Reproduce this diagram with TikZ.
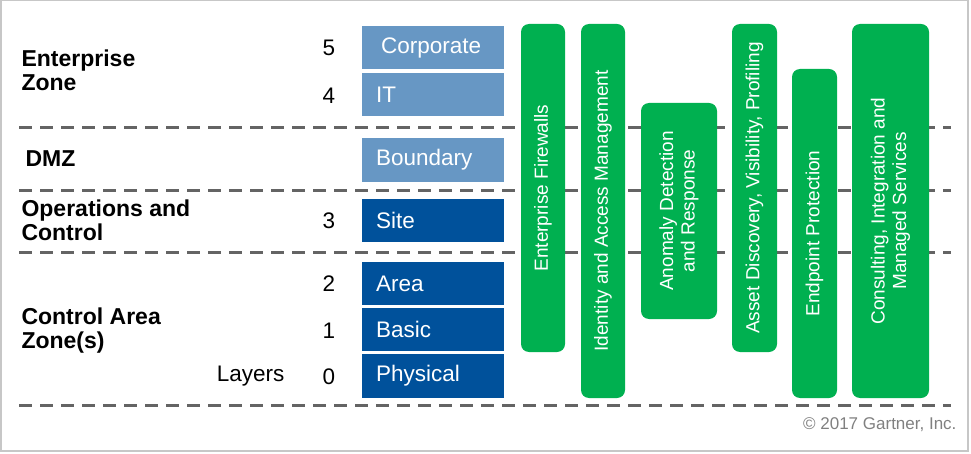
\documentclass[tikz,border=0pt]{standalone}
\usepackage{fontspec}
\setmainfont{Liberation Sans}
\definecolor{lightlayer}{RGB}{103,151,196}
\definecolor{darklayer}{RGB}{0,81,155}
\definecolor{solgreen}{RGB}{0,176,80}
\definecolor{zoneline}{RGB}{100,100,100}
\begin{document}
\begin{tikzpicture}[x=1pt,y=-1pt,
    zonesep/.style={draw=zoneline,line width=3pt,dash pattern=on 12.5pt off 8.5pt},
    zonelabel/.style={anchor=west,align=left,font=\fontsize{23}{24}\selectfont\bfseries},
    layernum/.style={font=\fontsize{22.5}{24}\selectfont},
    layerbox/.style={fill=#1,text=white,minimum width=142pt,minimum height=43.5pt,
      text width=114pt,inner xsep=14pt,align=left,font=\fontsize{22.5}{24}\selectfont},
    solution/.style={fill=solgreen,text=white,rounded corners=8pt,rotate=90,align=center,
      font=\fontsize{19}{21.5}\selectfont,inner sep=0pt}]
      \useasboundingbox (0,0) rectangle (971,454);
      \draw[color=black!22,line width=1.5pt] (0.75,0.75) rectangle (968,451);

      \coordinate (S1w) at (19,127.5);
      \coordinate (S1e) at (951,127.5);
      \coordinate (S2w) at (19,190.5);
      \coordinate (S2e) at (951,190.5);
      \coordinate (S3w) at (19,252.5);
      \coordinate (S3e) at (951,252.5);
      \coordinate (S4w) at (19,405.5);
      \coordinate (S4e) at (951,405.5);

      \draw[zonesep] (S1w) -- (S1e);
      \draw[zonesep] (S2w) -- (S2e);
      \draw[zonesep] (S3w) -- (S3e);
      \draw[zonesep] (S4w) -- (S4e);

      \node[zonelabel] (enterprise) at (18,70) {Enterprise\\Zone};
      \node[zonelabel] (dmz) at (22,159) {DMZ};
      \node[zonelabel] (operations) at (18,220) {Operations and\\Control};
      \node[zonelabel] (controlarea) at (18,331) {Control Area\\Zone(s)};

      \node[layerbox=lightlayer] (corporate) at (433,47.5) {\hspace{5pt}Corporate};
      \node[layerbox=lightlayer] (it) at (433,94.5) {IT};
      \node[layerbox=lightlayer] (boundary) at (433,160) {Boundary};
      \node[layerbox=darklayer] (site) at (433,220.5) {Site};
      \node[layerbox=darklayer] (area) at (433,283.5) {Area};
      \node[layerbox=darklayer] (basic) at (433,329.5) {Basic};
      \node[layerbox=darklayer] (physical) at (433,376) {Physical};

      \node[layernum] (n5) at (329,47.5) {5};
      \node[layernum] (n4) at (329,95.5) {4};
      \node[layernum] (n3) at (329,220.5) {3};
      \node[layernum] (n2) at (329,283.5) {2};
      \node[layernum] (n1) at (329,330.5) {1};
      \node[layernum] (n0) at (329,376.5) {0};
      \node[layernum,anchor=east] (layers) at (288,376.5) {Layers};

      \node[solution,minimum width=328pt,minimum height=44pt] (firewalls) at (543,188) {Enterprise Firewalls};
      \node[solution,minimum width=374pt,minimum height=44pt] (identity) at (603,211) {Identity and Access Management};
      \node[solution,minimum width=216pt,minimum height=76pt] (anomaly) at (679,211) {Anomaly Detection\\and Response};
      \node[solution,minimum width=328pt,minimum height=45pt] (discovery) at (754.5,188) {Asset Discovery, Visibility, Profiling};
      \node[solution,minimum width=329pt,minimum height=45pt] (endpoint) at (814.5,233.5) {Endpoint Protection};
      \node[solution,minimum width=374pt,minimum height=77pt] (consulting) at (890.5,211) {Consulting, Integration and\\Managed Services};

      \node[anchor=east,text=black!50,font=\fontsize{17}{20}\selectfont] (copyright) at (960,425) {\textcopyright{} 2017 Gartner, Inc.};
    \end{tikzpicture}
\end{document}
